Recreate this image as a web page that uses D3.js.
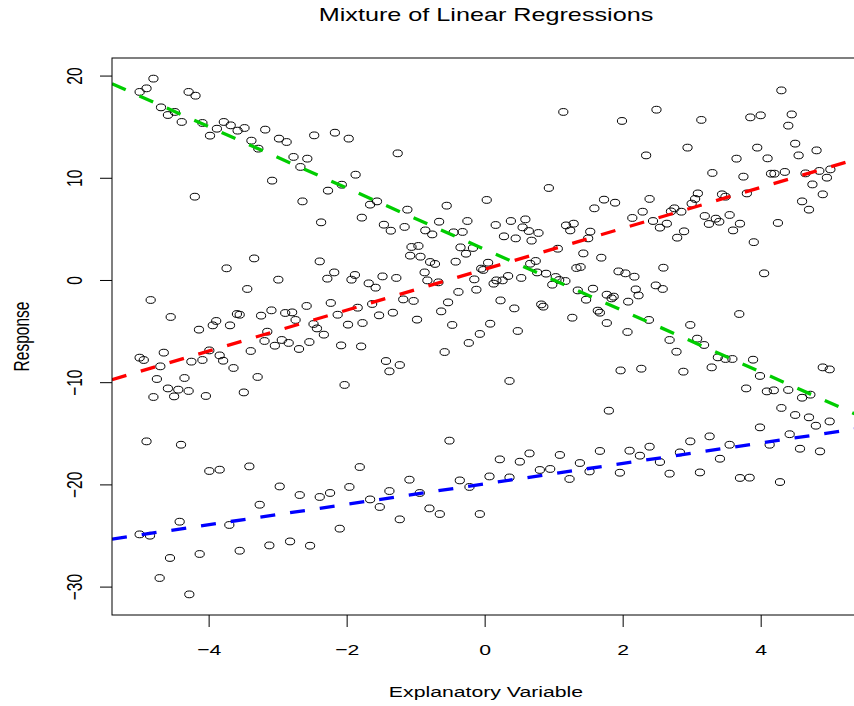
<!DOCTYPE html>
<html>
<head>
<meta charset="utf-8">
<script src="https://d3js.org/d3.v7.min.js"></script>
<style>
  body { margin: 0; background: #fff; }
  text { font-family: "Liberation Sans", Arial, sans-serif; fill: #000; }
</style>
</head>
<body>
<div id="chart"></div>
<script>
const obsTopLeft = [
  [-4.80,19.70],[-4.90,18.75],[-5.00,18.40],[-4.29,18.40],[-4.19,18.03],[-4.69,16.89],[-4.59,16.14],
  [-4.49,16.44],[-4.39,15.46],[-4.09,15.36],[-3.98,14.12],[-3.88,14.80],[-3.78,15.46],[-3.68,15.13],
  [-3.58,14.61],[-3.48,14.87],[-3.38,13.63],[-3.28,12.85],[-3.18,14.71],[-2.98,13.83],[-2.87,13.50],
  [-2.77,12.04],[-2.67,11.06],[-2.57,11.87],[-2.47,14.15],[-2.17,14.41],[-1.97,13.83],[-3.08,9.72],
  [-4.20,8.15],[-2.64,7.69],[-2.27,8.74],[-2.07,9.32],[-1.87,10.30],[-2.37,5.64],[-1.78,6.10]
];
const obsTopMid = [
  [-1.26,12.39],[1.14,16.44],[0.93,9.00],[0.03,7.83],[-0.55,7.27],[-1.12,6.88],[-1.56,7.69],[-1.66,7.37],
  [-1.46,5.41],[-1.36,4.82],[-1.16,5.19],[-0.86,4.85],[-0.76,4.46],[-0.66,5.70],[-0.45,4.66],[-0.32,4.70],
  [-0.25,5.77],[0.16,5.38],[0.38,5.77],[0.59,5.93],[0.55,5.15],[0.64,4.79],[0.78,4.60],[0.28,4.27],
  [0.45,4.07],[1.18,5.34],[1.29,5.51],[1.24,4.85],[1.53,4.73],[1.59,7.01],[1.73,7.86],[1.50,4.07]
];
const obsTopRight = [
  [4.30,18.55],[2.49,16.66],[1.99,15.56],[3.14,15.66],[3.85,15.91],[4.00,16.11],[4.45,16.20],[4.40,15.10],
  [2.94,12.95],[2.34,12.19],[3.95,12.95],[4.50,13.34],[4.55,12.19],[4.81,12.68],[3.65,11.87],[4.10,11.90],
  [3.30,10.47],[3.75,10.11],[4.15,10.40],[4.20,10.40],[4.35,10.57],[4.65,10.43],[4.85,10.67],[5.01,10.82],
  [4.96,10.01],[4.75,9.35],[4.90,8.38],[4.60,7.69],[4.70,6.88],[3.80,8.47],[3.44,8.38],[3.49,8.15],
  [3.09,8.47],[3.05,7.93],[3.00,7.47],[2.39,7.93],[1.89,7.56],[2.29,6.68],[2.14,6.07],[2.44,5.77],
  [2.54,5.12],[2.64,5.51],[2.70,6.71],[2.75,7.01],[2.85,6.68],[3.19,6.26],[3.25,5.48],[3.35,6.00],
  [3.40,5.70],[3.55,6.36],[3.70,5.51],[3.60,4.85],[4.25,5.58],[2.79,4.14],[2.89,4.76],[3.90,3.70]
];
const obsMidLeft = [
  [-3.34,2.11],[-2.39,1.82],[-3.74,1.14],[-2.99,0.03],[-2.18,0.74],[-2.28,0.13],[-1.93,0.03],[-1.88,0.49],
  [-3.44,-0.88],[-4.84,-1.96],[-4.55,-3.62],[-2.58,-2.54],[-2.23,-2.25],[-1.84,-2.71],[-3.59,-3.33],
  [-3.55,-3.40],[-3.24,-3.49],[-3.09,-2.97],[-2.89,-3.23],[-2.79,-3.17],[-2.74,-3.91],[-2.13,-3.40],
  [-3.89,-4.01],[-3.94,-4.44],[-3.69,-4.44],[-4.14,-4.86],[-3.15,-5.06],[-2.48,-4.31],[-2.43,-4.74],
  [-2.33,-5.35],[-1.98,-4.37],[-1.77,-4.21],[-3.19,-5.97],[-2.94,-5.87],[-2.84,-6.16],[-3.04,-6.43],
  [-2.69,-6.75],[-2.54,-6.07],[-2.08,-6.40],[-1.79,-6.50],[-3.39,-6.95],[-3.99,-6.89],[-3.84,-7.38],
  [-4.65,-7.11],[-5.00,-7.60],[-4.94,-7.83],[-4.25,-7.99],[-4.09,-7.83],[-3.79,-7.90],[-4.70,-8.45],
  [-3.64,-8.61],[-4.75,-9.69],[-4.35,-9.59],[-3.29,-9.49],[-4.59,-10.61],[-4.44,-10.73],[-4.29,-10.86],
  [-4.50,-11.39],[-4.80,-11.45],[-4.04,-11.35],[-3.49,-11.00],[-2.03,-10.27]
];
const obsCentre = [
  [-1.06,3.23],[-0.96,3.33],[-1.08,2.38],[-0.93,2.28],[-0.35,3.19],[-0.17,3.13],[-0.27,2.57],[0.68,3.85],
  [1.06,3.06],[1.43,2.60],[1.69,2.18],[-0.79,1.76],[-0.72,1.57],[-0.42,1.79],[0.05,1.69],[-0.05,1.11],
  [-0.02,0.98],[0.66,1.59],[0.74,1.86],[1.33,1.17],[1.39,1.27],[-0.87,0.74],[-0.83,-0.04],[-0.67,-0.23],
  [-1.48,0.35],[-1.28,0.20],[-1.68,-0.33],[-1.58,-0.75],[-0.15,0.06],[-0.12,-0.95],[-0.38,-1.17],
  [0.13,-0.36],[0.17,-0.04],[0.26,-0.04],[0.34,0.39],[0.53,0.20],[0.76,0.74],[0.89,0.62],[0.98,-0.46],
  [1.03,0.29],[1.08,0.00],[1.17,-0.10],[1.35,-1.02],[1.57,-0.85],[1.47,-1.93],[1.77,-1.44],[-1.18,-1.90],
  [-1.03,-2.05],[-1.63,-2.35],[0.23,-2.00],[0.43,-2.78],[0.82,-2.39],[0.85,-2.61],[-0.53,-2.19],
  [-0.63,-3.07],[-1.33,-3.20],[-1.53,-3.46],[-0.98,-3.88],[-0.47,-4.40],[0.08,-4.28],[0.48,-4.99],
  [-0.07,-5.28],[-0.23,-6.16],[-0.58,-7.05],[1.64,-3.00],[1.67,-3.20],[1.27,-3.69],[1.77,-4.21],
  [-1.43,-7.93],[-1.23,-8.32],[-1.38,-8.94],[0.36,-9.88],[1.80,-12.79]
];
const obsMidRight = [
  [2.59,1.20],[4.05,0.65],[1.94,0.84],[2.04,0.65],[2.17,0.32],[2.48,-0.53],[2.58,-0.88],[2.19,-0.92],
  [2.23,-1.51],[1.87,-1.63],[1.84,-1.80],[2.08,-2.12],[3.69,-3.33],[2.38,-3.91],[2.98,-4.40],[2.07,-5.09],
  [2.68,-5.87],[3.08,-5.74],[3.18,-6.36],[2.78,-7.02],[3.38,-7.57],[3.49,-7.73],[3.59,-7.73],[3.89,-7.80],
  [3.29,-8.55],[1.97,-8.85],[2.27,-8.68],[2.88,-8.97],[4.90,-8.55],[5.00,-8.75],[3.99,-9.39],[3.79,-10.61],
  [4.09,-10.90],[4.19,-10.80],[4.40,-10.76],[4.60,-11.52],[4.72,-11.22],[4.30,-12.52],[4.50,-13.21],
  [4.70,-13.44],[4.80,-14.26],[5.00,-13.84],[3.99,-14.42],[4.42,-15.09],[3.26,-15.30]
];
const obsLowLeft = [
  [-4.90,-15.79],[-4.40,-16.12],[-3.99,-18.69],[-3.84,-18.56],[-3.41,-18.24],[-1.81,-18.30],[-2.97,-20.20],
  [-2.68,-21.04],[-2.39,-21.23],[-2.24,-20.84],[-1.96,-20.25],[-3.26,-21.99],[-4.42,-23.65],[-3.70,-23.97],
  [-2.10,-24.33],[-5.00,-24.89],[-4.85,-25.02],[-4.56,-27.20],[-4.13,-26.81],[-3.55,-26.49],[-3.12,-25.97],
  [-2.82,-25.58],[-2.53,-26.00],[-4.71,-29.16],[-4.28,-30.76]
];
const obsLowMid = [
  [-0.51,-15.72],[-1.09,-19.54],[-1.38,-20.65],[-1.66,-21.47],[-1.52,-22.21],[-0.94,-20.84],[-1.23,-23.42],
  [-0.80,-22.35],[-0.65,-22.90],[-0.36,-19.61],[-0.22,-20.25],[-0.07,-22.90],[0.07,-19.22],[0.22,-17.55],
  [0.36,-19.32],[0.51,-17.78],[0.65,-16.97],[0.80,-18.59],[0.95,-18.49],[1.09,-17.12],[1.23,-19.47],
  [1.38,-17.91],[1.52,-18.73],[1.67,-16.73]
];
const obsLowRight = [
  [2.10,-16.70],[2.25,-17.19],[2.39,-16.31],[1.96,-18.86],[2.54,-17.81],[2.68,-18.95],[2.83,-16.87],
  [2.98,-15.79],[3.12,-18.83],[3.41,-17.49],[3.55,-16.12],[3.70,-19.37],[3.84,-19.34],[4.13,-16.12],
  [4.28,-19.77],[4.57,-16.51],[4.86,-16.77]
];

// fitted regression lines
const fitIntercept = [1.05, 3.0, -19.95];
const fitSlope = [2.0, -3.0, 1.0];
const fitColour = ["#ff0000", "#00cd00", "#0000ff"];

const xTicks = [-4, -2, 0, 2, 4];
const yTicks = [20, 10, 0, -10, -20, -30];

var width = 854, height = 706;
var pLeft = 112, pRight = 858, pTop = 58, pBottom = 615;
var sx = 1.37; // the original raster is stretched sideways

var obs = [].concat(obsTopLeft, obsTopMid, obsTopRight, obsMidLeft, obsCentre,
  obsMidRight, obsLowLeft, obsLowMid, obsLowRight);

// R style 4% padding of the data range
function pad(ext) {
  var d = (ext[1] - ext[0]) * 0.04;
  return [ext[0] - d, ext[1] + d];
}

var x = d3.scaleLinear().domain(pad(d3.extent(obs, d => d[0]))).range([pLeft, pRight]);
var y = d3.scaleLinear().domain(pad(d3.extent(obs, d => d[1]))).range([pBottom, pTop]);

var svg = d3.select("#chart").append("svg")
  .attr("width", width)
  .attr("height", height)
  .style("background", "#fff");

svg.append("clipPath").attr("id", "plotclip")
  .append("rect")
  .attr("x", pLeft).attr("y", pTop)
  .attr("width", pRight - pLeft).attr("height", pBottom - pTop);

// points
svg.append("g")
  .selectAll("ellipse")
  .data(obs).enter()
  .append("ellipse")
  .attr("cx", d => x(d[0]))
  .attr("cy", d => y(d[1]))
  .attr("rx", 4.6)
  .attr("ry", 3.4)
  .attr("fill", "none")
  .attr("stroke", "#000")
  .attr("stroke-width", 1);

// regression lines
var line = d3.line().x(d => x(d[0])).y(d => y(d[1]));
var gLines = svg.append("g").attr("clip-path", "url(#plotclip)");
fitSlope.forEach(function(b, i) {
  var a = fitIntercept[i];
  var xd = x.domain();
  gLines.append("path")
    .attr("d", line([[xd[0], a + b * xd[0]], [xd[1], a + b * xd[1]]]))
    .attr("stroke", fitColour[i])
    .attr("stroke-width", 3.3)
    .attr("stroke-dasharray", "15,15")
    .attr("fill", "none");
});

// box
svg.append("rect")
  .attr("x", pLeft).attr("y", pTop)
  .attr("width", pRight - pLeft).attr("height", pBottom - pTop)
  .attr("fill", "none")
  .attr("stroke", "#000")
  .attr("stroke-width", 1);

var fmt = d => d < 0 ? "\u2212" + Math.abs(d) : String(d);

// x axis
var gx = svg.append("g")
  .attr("transform", "translate(0," + pBottom + ")")
  .call(d3.axisBottom(x).tickValues(xTicks).tickSize(12).tickFormat(fmt))
  .attr("font-size", 15.5)
  .attr("font-family", "Liberation Sans, Arial, sans-serif");
gx.select(".domain").remove();
gx.selectAll("line").attr("stroke", "#000");
gx.selectAll("text")
  .attr("y", null).attr("dy", null)
  .attr("fill", "#000")
  .attr("transform", "translate(0,40) scale(" + sx + ",1)");

// y axis
var gy = svg.append("g")
  .attr("transform", "translate(" + pLeft + ",0)")
  .call(d3.axisLeft(y).tickValues(yTicks).tickSize(12).tickFormat(fmt))
  .attr("font-size", 15.5)
  .attr("font-family", "Liberation Sans, Arial, sans-serif");
gy.select(".domain").remove();
gy.selectAll("line").attr("stroke", "#000");
gy.selectAll("text")
  .attr("x", null).attr("dy", null)
  .attr("fill", "#000")
  .attr("text-anchor", "middle")
  .attr("transform", "translate(-30.3,0) scale(" + sx + ",1) rotate(-90)");

// titles
svg.append("text")
  .attr("transform", "translate(486,21) scale(" + sx + ",1)")
  .attr("text-anchor", "middle")
  .attr("font-size", 18.4)
  .text("Mixture of Linear Regressions");

svg.append("text")
  .attr("transform", "translate(486,697) scale(" + sx + ",1)")
  .attr("text-anchor", "middle")
  .attr("font-size", 15.5)
  .text("Explanatory Variable");

svg.append("text")
  .attr("transform", "translate(29,336.5) scale(" + sx + ",1) rotate(-90)")
  .attr("text-anchor", "middle")
  .attr("font-size", 15.5)
  .text("Response");
</script>
</body>
</html>
